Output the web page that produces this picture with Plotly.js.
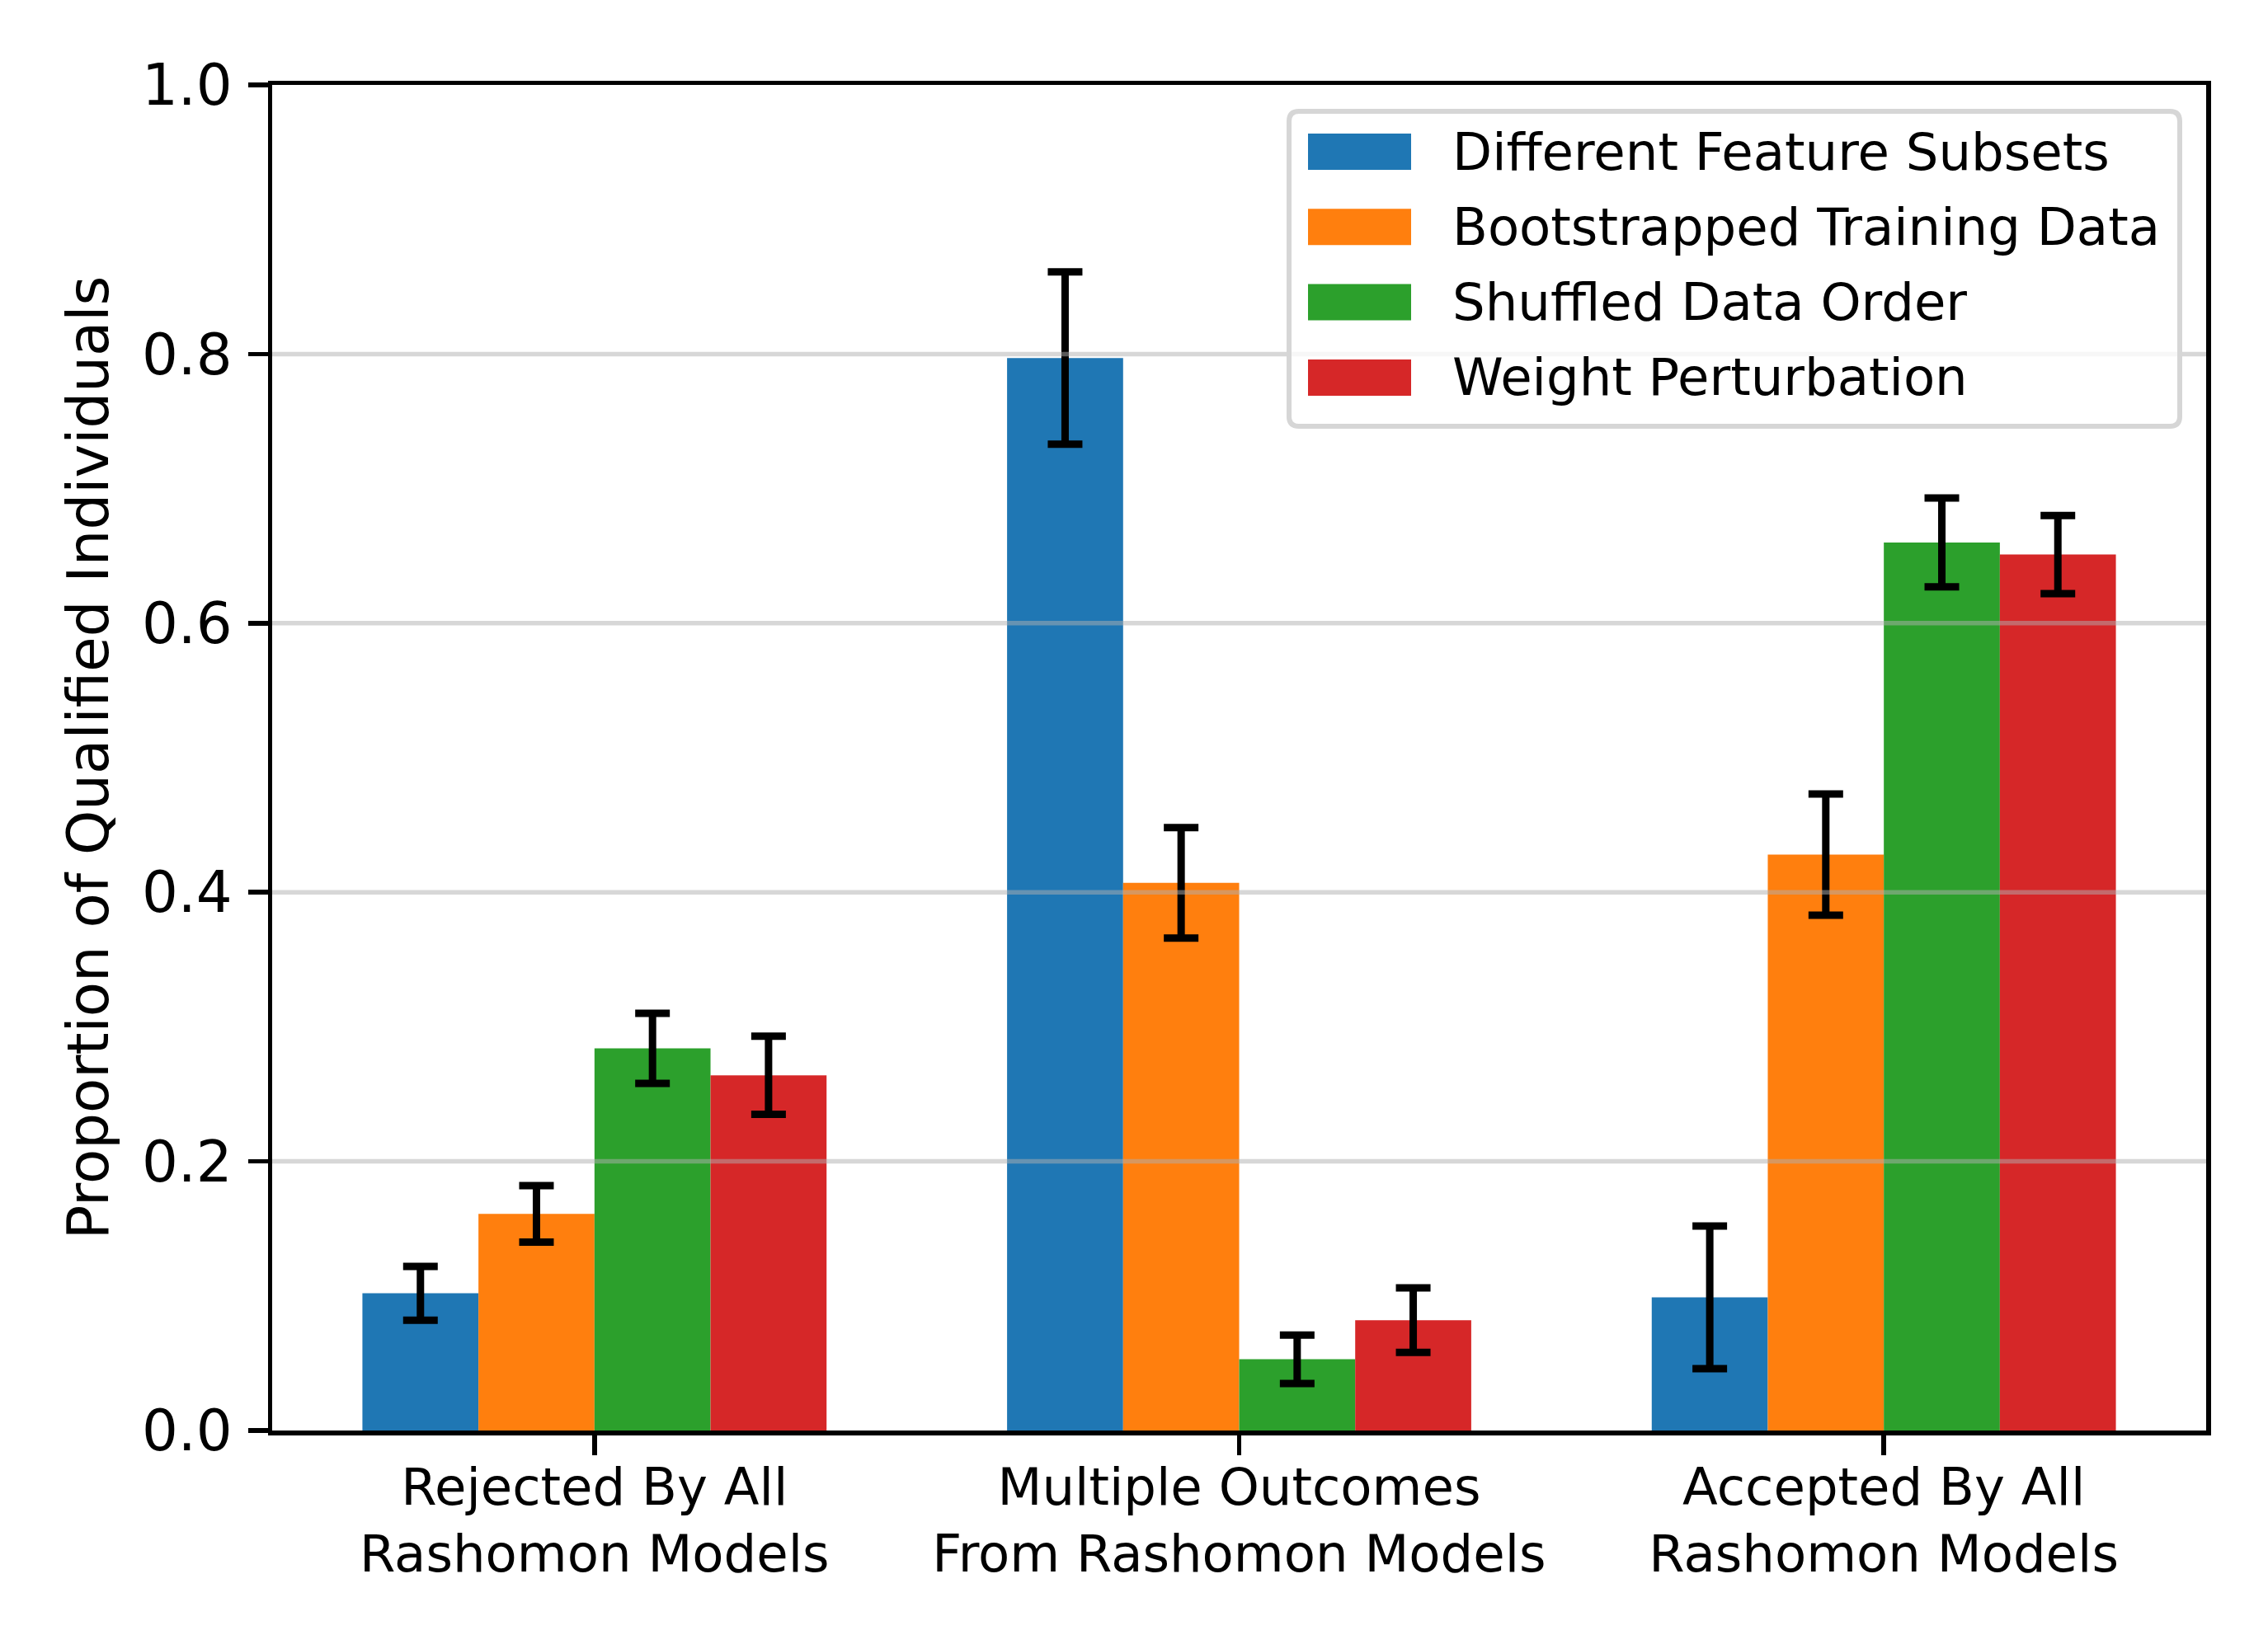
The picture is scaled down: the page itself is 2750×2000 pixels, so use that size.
<!DOCTYPE html>
<html>
<head>
<meta charset="utf-8">
<script src="https://cdn.plot.ly/plotly-3.0.1.min.js"></script>
<style>body{margin:0;background:#fff;}</style>
</head>
<body>
<div id="chart" style="width:2750px;height:2000px;"></div>
<script>
const categories = [
  "Rejected By All<br>Rashomon Models",
  "Multiple Outcomes<br>From Rashomon Models",
  "Accepted By All<br>Rashomon Models"
];
const seriesNames = ["Different Feature Subsets", "Bootstrapped Training Data", "Shuffled Data Order", "Weight Perturbation"];
const featureSubsets = [0.102, 0.797, 0.099];
const featureSubsetsErr = [0.020, 0.064, 0.053];
const bootstrapped = [0.161, 0.407, 0.428];
const bootstrappedErr = [0.021, 0.041, 0.045];
const shuffled = [0.284, 0.053, 0.660];
const shuffledErr = [0.026, 0.018, 0.033];
const weightPerturb = [0.264, 0.082, 0.651];
const weightPerturbErr = [0.029, 0.024, 0.029];
const yTicks = [0.0, 0.2, 0.4, 0.6, 0.8, 1.0];
const colors = ["#1f77b4", "#ff7f0e", "#2ca02c", "#d62728"];

const values = [featureSubsets, bootstrapped, shuffled, weightPerturb];
const errs = [featureSubsetsErr, bootstrappedErr, shuffledErr, weightPerturbErr];

const FONT = "DejaVu Sans, Liberation Sans, sans-serif";

// plot area in pixels
const W = 2750, H = 2000;
const ML = 330, MR = 75, MT = 103, MB = 265;
const PW = W - ML - MR, PH = H - MT - MB;
const px = x => (x - ML) / PW;          // pixel x -> paper
const py = y => (H - MB - y) / PH;      // pixel y -> paper

const traces = values.map((v, i) => ({
  type: "bar",
  name: seriesNames[i],
  x: categories,
  y: v,
  showlegend: false,
  marker: {color: colors[i], line: {width: 0}},
  error_y: {type: "data", array: errs[i], visible: true, color: "#000000", thickness: 9, width: 21}
}));

const shapes = yTicks.filter(t => t > 0 && t < 1).map(t => ({
  type: "line", xref: "paper", yref: "y", x0: 0, x1: 1, y0: t, y1: t,
  line: {color: "rgba(176,176,176,0.5)", width: 5.5}, layer: "above"
}));

// legend box (rounded)
const LB = {x0: 1563, x1: 2643, y0: 135, y1: 517, r: 12};
const rx = LB.r;
const boxPath = [
  `M${px(LB.x0 + rx)},${py(LB.y0)}`,
  `L${px(LB.x1 - rx)},${py(LB.y0)}`,
  `Q${px(LB.x1)},${py(LB.y0)} ${px(LB.x1)},${py(LB.y0 + rx)}`,
  `L${px(LB.x1)},${py(LB.y1 - rx)}`,
  `Q${px(LB.x1)},${py(LB.y1)} ${px(LB.x1 - rx)},${py(LB.y1)}`,
  `L${px(LB.x0 + rx)},${py(LB.y1)}`,
  `Q${px(LB.x0)},${py(LB.y1)} ${px(LB.x0)},${py(LB.y1 - rx)}`,
  `L${px(LB.x0)},${py(LB.y0 + rx)}`,
  `Q${px(LB.x0)},${py(LB.y0)} ${px(LB.x0 + rx)},${py(LB.y0)}`,
  "Z"
].join(" ");
shapes.push({
  type: "path", xref: "paper", yref: "paper", path: boxPath,
  fillcolor: "rgba(255,255,255,0.8)", line: {color: "#d6d6d6", width: 6}, layer: "above"
});

const annotations = [];
const rowTop = 184, rowStep = 91.3, swH = 44, swX0 = 1586, swX1 = 1711, textX = 1759;
seriesNames.forEach((name, i) => {
  const cy = rowTop + i * rowStep;
  shapes.push({
    type: "rect", xref: "paper", yref: "paper",
    x0: px(swX0), x1: px(swX1), y0: py(cy + swH / 2), y1: py(cy - swH / 2),
    fillcolor: colors[i], line: {width: 0}, layer: "above"
  });
  annotations.push({
    xref: "paper", yref: "paper", x: px(textX), y: py(cy),
    xanchor: "left", yanchor: "middle", showarrow: false,
    text: name, font: {family: FONT, size: 62.5, color: "#000000"}
  });
});

const layout = {
  width: W, height: H,
  margin: {l: ML, r: MR, t: MT, b: MB, pad: 0},
  paper_bgcolor: "#ffffff", plot_bgcolor: "#ffffff",
  font: {family: FONT, color: "#000000", size: 69},
  barmode: "group", bargap: 0.28, bargroupgap: 0,
  showlegend: false,
  xaxis: {
    type: "category", range: [-0.5, 2.5],
    showline: true, linecolor: "#000000", linewidth: 5.5, mirror: true,
    ticks: "outside", ticklen: 24, tickwidth: 5.5, tickcolor: "#000000",
    tickfont: {family: FONT, size: 62.5, color: "#000000"},
    ticklabelstandoff: -15,
    showgrid: false, zeroline: false, automargin: false
  },
  yaxis: {
    range: [0, 1], tickvals: yTicks, ticktext: yTicks.map(t => t.toFixed(1)),
    showline: true, linecolor: "#000000", linewidth: 5.5, mirror: true,
    ticks: "outside", ticklen: 24, tickwidth: 5.5, tickcolor: "#000000",
    tickfont: {family: FONT, size: 69, color: "#000000"},
    ticklabelstandoff: 5,
    showgrid: false, zeroline: false, automargin: false,
    title: {text: "Proportion of Qualified Individuals", font: {family: FONT, size: 69, color: "#000000"}, standoff: 20}
  },
  shapes: shapes,
  annotations: annotations
};

Plotly.newPlot("chart", traces, layout, {displayModeBar: false, staticPlot: true});
</script>
</body>
</html>
